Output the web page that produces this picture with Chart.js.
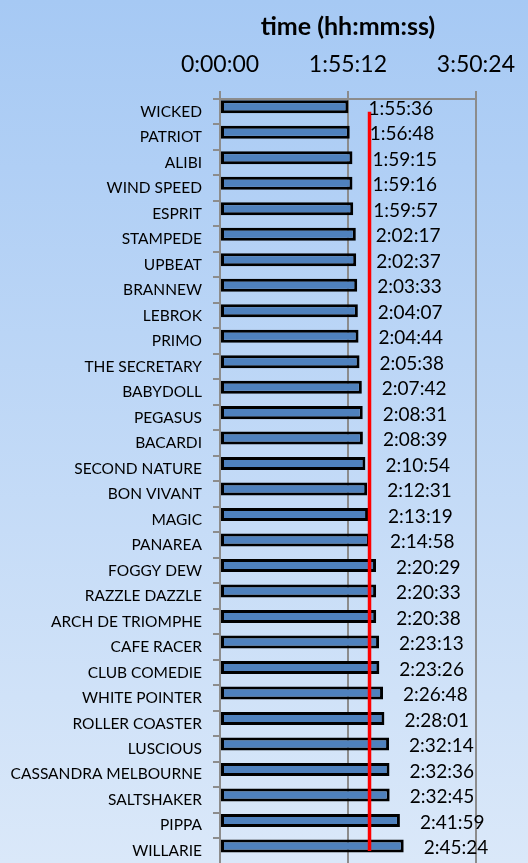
<!DOCTYPE html>
<html>
<head>
<meta charset="utf-8">
<script src="https://cdn.jsdelivr.net/npm/chart.js"></script>
<style>
  html, body { margin: 0; padding: 0; }
  body { width: 528px; height: 863px; overflow: hidden;
         background: linear-gradient(to bottom, #a6c9f4 0px, #dae8f9 863px); }
  /* plot runs past the bottom edge, as in the original */
  #wrap { width: 528px; height: 884px; }
</style>
</head>
<body>
<div id="wrap"><canvas id="timeChart"></canvas></div>
<script>
// boats and their times, top to bottom
const boats = [
  "WICKED", "PATRIOT", "ALIBI", "WIND SPEED", "ESPRIT", "STAMPEDE", "UPBEAT",
  "BRANNEW", "LEBROK", "PRIMO", "THE SECRETARY", "BABYDOLL", "PEGASUS",
  "BACARDI", "SECOND NATURE", "BON VIVANT", "MAGIC", "PANAREA", "FOGGY DEW",
  "RAZZLE DAZZLE", "ARCH DE TRIOMPHE", "CAFE RACER", "CLUB COMEDIE",
  "WHITE POINTER", "ROLLER COASTER", "LUSCIOUS", "CASSANDRA MELBOURNE",
  "SALTSHAKER", "PIPPA", "WILLARIE"
];

const times = [
  "1:55:36", "1:56:48", "1:59:15", "1:59:16", "1:59:57", "2:02:17", "2:02:37",
  "2:03:33", "2:04:07", "2:04:44", "2:05:38", "2:07:42", "2:08:31",
  "2:08:39", "2:10:54", "2:12:31", "2:13:19", "2:14:58", "2:20:29",
  "2:20:33", "2:20:38", "2:23:13", "2:23:26", "2:26:48", "2:28:01",
  "2:32:14", "2:32:36", "2:32:45", "2:41:59", "2:45:24"
];

// red line = average time
const meanTime = "2:14:37";

const axisTicks = ["0:00:00", "1:55:12", "3:50:24"];

function toSeconds(t) {
  const p = t.split(":").map(Number);
  return p[0] * 3600 + p[1] * 60 + p[2];
}

function toHms(s) {
  const h = Math.floor(s / 3600);
  const m = Math.floor((s % 3600) / 60);
  const sec = Math.round(s % 60);
  return h + ":" + String(m).padStart(2, "0") + ":" + String(sec).padStart(2, "0");
}

const seconds = times.map(toSeconds);
const meanLine = boats.map(() => toSeconds(meanTime));
const tickSecs = axisTicks.map(toSeconds);

const FONT = "Lato, 'Open Sans', sans-serif";

// draws the time next to each bar
const barLabels = {
  id: "barLabels",
  afterDatasetsDraw(chart) {
    const ctx = chart.ctx;
    const meta = chart.getDatasetMeta(1);
    ctx.save();
    ctx.font = "19px " + FONT;
    ctx.fillStyle = "#000";
    ctx.textAlign = "left";
    ctx.textBaseline = "middle";
    meta.data.forEach((bar, i) => {
      ctx.fillText(times[i], bar.x + 20, bar.y + 2);
    });
    ctx.restore();
  }
};

new Chart(document.getElementById("timeChart"), {
  type: "bar",
  data: {
    labels: boats,
    datasets: [
      {
        type: "line",
        label: "average",
        data: meanLine,
        borderColor: "#ff0000",
        borderWidth: 3.5,
        pointRadius: 0,
        order: 0
      },
      {
        label: "time",
        data: seconds,
        backgroundColor: "#4f81bd",
        borderColor: "#000",
        borderWidth: 3,
        borderSkipped: false,
        categoryPercentage: 0.785,
        barPercentage: 1.3,
        order: 1
      },
      {
        // empty second series: keeps the bars in the upper part of each row, as in Excel
        label: "",
        data: [],
        categoryPercentage: 0.785,
        barPercentage: 1.3,
        order: 2
      }
    ]
  },
  options: {
    indexAxis: "y",
    responsive: true,
    maintainAspectRatio: false,
    animation: false,
    layout: { padding: { top: 0, right: 52, bottom: 0, left: 0 } },
    plugins: {
      legend: { display: false },
      tooltip: { enabled: false }
    },
    scales: {
      x: {
        position: "top",
        min: 0,
        max: tickSecs[2],
        afterBuildTicks(scale) {
          scale.ticks = tickSecs.map(v => ({ value: v }));
        },
        afterFit(scale) { scale.height = 99; },
        ticks: {
          callback: v => toHms(v),
          font: { family: FONT, size: 23 },
          color: "#000",
          padding: 13,
          maxRotation: 0
        },
        grid: { color: "#8c8c8c", lineWidth: 2, tickLength: 8 },
        border: { color: "#8c8c8c", width: 2 },
        title: {
          display: true,
          text: "time (hh:mm:ss)",
          font: { family: FONT, size: 25, weight: "bold" },
          color: "#000",
          padding: { top: 12, bottom: 0 }
        }
      },
      y: {
        afterFit(scale) { scale.width = 220; },
        ticks: {
          font: { family: FONT, size: 15.5 },
          color: "#000",
          padding: 11,
          autoSkip: false
        },
        grid: { drawOnChartArea: false, color: "#8c8c8c", lineWidth: 2, tickLength: 7 },
        border: { color: "#8c8c8c", width: 2 }
      }
    }
  },
  plugins: [barLabels]
});
</script>
</body>
</html>
